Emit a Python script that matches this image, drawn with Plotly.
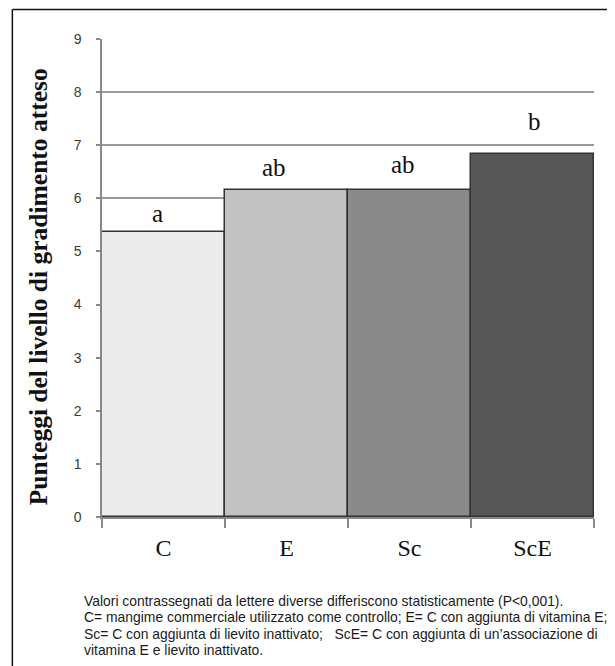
import plotly.graph_objects as go

categories = ["C", "E", "Sc", "ScE"]
scores = [5.36, 6.16, 6.15, 6.83]
letters = ["a", "ab", "ab", "b"]
bar_colors = ["#ebebeb", "#c2c2c2", "#8a8a8a", "#575757"]
y_ticks = list(range(0, 10))
y_title = "Punteggi del livello di gradimento atteso"
caption_lines = [
    "Valori contrassegnati da lettere diverse differiscono statisticamente (P<0,001).",
    "C= mangime commerciale utilizzato come controllo; E= C con aggiunta di vitamina E;",
    "Sc= C con aggiunta di lievito inattivato;   ScE= C con aggiunta di un\u2019associazione di",
    "vitamina E e lievito inattivato.",
]

W, H = 615, 666
OFF = 8  # page body margin offset
L, R, T, B = 101.7 - OFF, 21 + OFF, 39 - OFF, 149 + OFF
pw = W - L - R
ph = H - T - B


def px_x(p):
    return (p - OFF - L) / pw


def px_y(p):
    return (H - B - (p - OFF)) / ph


fig = go.Figure()
fig.add_trace(go.Bar(
    x=categories, y=scores,
    marker=dict(color=bar_colors, line=dict(color="#333333", width=1.5)),
    width=1.0, showlegend=False, hoverinfo="x+y",
))

# letters above bars
x_shifts = [-6, -13, -7, 2]
y_shifts = [19, 22, 26, 33]
for c, v, t, xs, ys in zip(categories, scores, letters, x_shifts, y_shifts):
    fig.add_annotation(x=c, y=v, text=t, showarrow=False, xref="x", yref="y",
                       xshift=xs, yshift=ys, yanchor="middle",
                       font=dict(family="Liberation Serif, Times New Roman, serif", size=25, color="#111111"))

# y-axis title
fig.add_annotation(xref="paper", yref="paper",
                   x=px_x(38), y=px_y(287),
                   text="<b>" + y_title + "</b>", textangle=-90, showarrow=False,
                   xanchor="center", yanchor="middle",
                   font=dict(family="Liberation Serif, Times New Roman, serif", size=25.5, color="#111111"))

# caption
for i, line in enumerate(caption_lines):
    ypix = 601 + i * 16.3
    fig.add_annotation(xref="paper", yref="paper",
                       x=px_x(82), y=px_y(ypix),
                       text=line, showarrow=False, xanchor="left", yanchor="middle",
                       font=dict(family="Liberation Sans, Arial, sans-serif", size=13.9, color="#1a1a1a"))

# outer frame (left and top edges visible)
x0 = px_x(12)
y0 = px_y(9.5)
fig.add_shape(type="line", xref="paper", yref="paper", x0=x0, x1=x0, y0=y0, y1=-0.5,
              line=dict(color="#111111", width=1.5))
fig.add_shape(type="line", xref="paper", yref="paper", x0=x0, x1=1.2, y0=y0, y1=y0,
              line=dict(color="#111111", width=1.5))

fig.update_layout(
    width=W, height=H,
    margin=dict(l=L, r=R, t=T, b=B, pad=0),
    paper_bgcolor="white", plot_bgcolor="white",
    bargap=0,
    xaxis=dict(
        type="category", range=[-0.5, 3.5], tickson="boundaries",
        ticks="outside", ticklen=9, tickcolor="#888888", tickwidth=1.5,
        showline=True, linecolor="#888888", linewidth=1.5,
        showgrid=False, zeroline=False,
        tickfont=dict(family="Liberation Serif, Times New Roman, serif", size=24, color="#111111"),
        ticklabelstandoff=8,
    ),
    yaxis=dict(
        range=[0, 9], tickvals=y_ticks, ticks="outside", ticklen=4,
        tickcolor="#888888", tickwidth=1.5,
        showline=True, linecolor="#888888", linewidth=1.5,
        showgrid=True, gridcolor="#9a9a9a", gridwidth=1.5, zeroline=False,
        tickfont=dict(family="Liberation Sans, Arial, sans-serif", size=14, color="#3a3a3a"),
        ticklabelstandoff=12,
    ),
)

fig.write_html("out.html")
